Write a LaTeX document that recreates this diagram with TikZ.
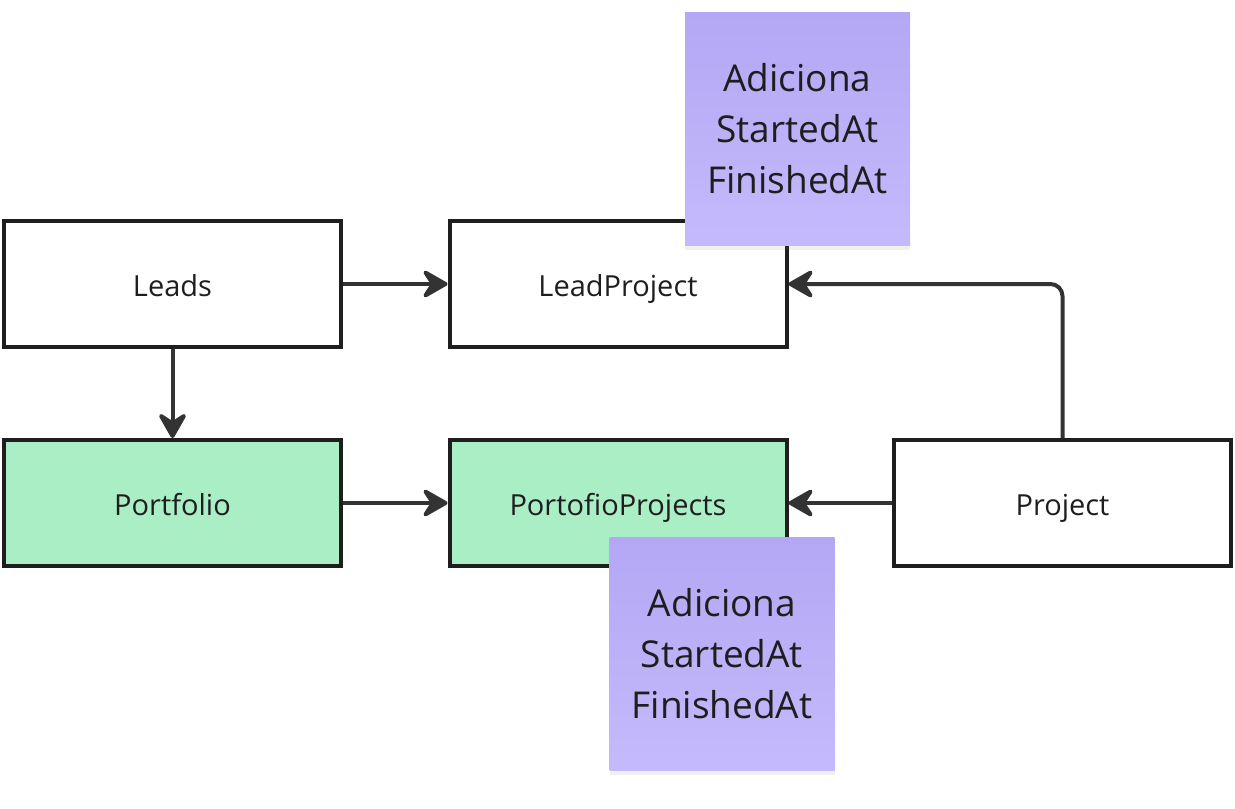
\documentclass[tikz,border=0pt]{standalone}
\usepackage{fontspec}
\setmainfont{Open Sans}
\usetikzlibrary{arrows.meta,shadows}
\definecolor{inkdark}{HTML}{1E1E1E}
\definecolor{linkgrey}{HTML}{333333}
\definecolor{mintfill}{HTML}{AAEEC6}
\definecolor{notetop}{HTML}{B4A7F5}
\definecolor{notebottom}{HTML}{C4BAFB}
\begin{document}
\begin{tikzpicture}[x=1pt, y=-1pt,
	table/.style={rectangle, draw=inkdark, line width=4pt, minimum width=337pt, minimum height=126pt, text=inkdark, text height=27pt, text depth=3pt, font=\fontsize{29}{34}\selectfont},
	green/.style={table, fill=mintfill},
	note/.style={rectangle, minimum width=225pt, minimum height=233pt, align=center, text=inkdark, top color=notetop, bottom color=notebottom, font=\fontsize{37}{51}\selectfont, drop shadow={opacity=0.12, shadow xshift=0pt, shadow yshift=-5pt}},
	links/.style={-{Stealth[length=30pt, width=34pt, inset=11pt, round]}, line width=4pt, linkgrey}]
	
	\useasboundingbox (0,0) rectangle (1235,809);
	
	\node[table] at (172.5, 284) (leads) {Leads};
	\node[table] at (618, 284) (leadproject) {LeadProject};
	\node[green] at (172.5, 503) (portfolio) {Portfolio};
	\node[green] at (618, 503) (portfolioprojects) {PortofioProjects};
	\node[table] at (1062.5, 503) (project) {Project};
	
	\draw[links] (leads) -- (leadproject);
	\draw[links] (leads) -- (portfolio);
	\draw[links] (portfolio) -- (portfolioprojects);
	\draw[links] (project) -- (portfolioprojects);
	\draw[links, rounded corners=12pt] (project) |- (leadproject);
	
	% sticky notes
	\node[note] at (797.5, 128.5) (note1) {Adiciona\\StartedAt\\FinishedAt};
	\node[note] at (722, 653.5) (note2) {Adiciona\\StartedAt\\FinishedAt};
\end{tikzpicture}
\end{document}
